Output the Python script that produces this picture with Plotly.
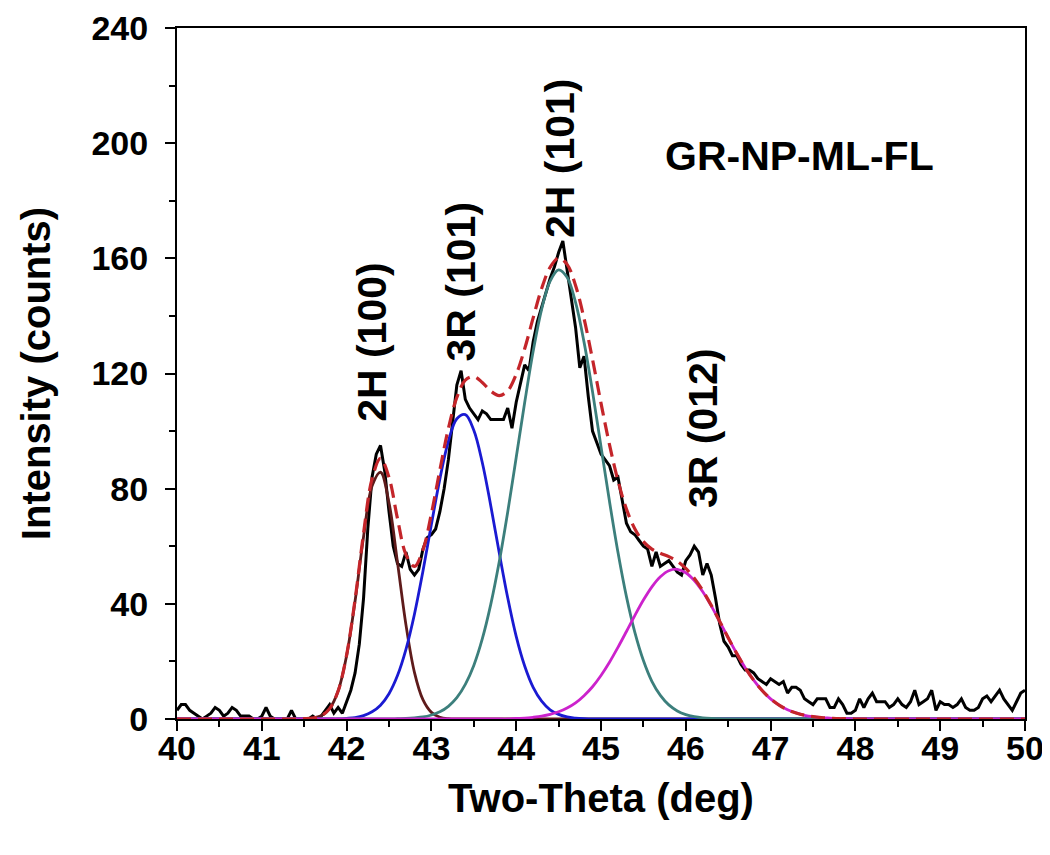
import plotly.graph_objects as go

# --- measured pattern (two-theta step 0.05 deg, 40 -> 50) ---
scan_x = [round(40 + 0.05 * i, 2) for i in range(201)]
scan_counts = [
    3, 5, 5, 3, 2, 1, 0, 1, 2, 4, 3, 1, 2, 4, 3, 1, 1, 1, 0, 0,
    1, 4, 1, 0, 0, 0, 0, 3, 0, 0, 0, 0, 1, 0, 1, 3, 5, 2, 4, 2,
    6, 10, 16, 26, 42, 66, 84, 92, 95, 86, 72, 60, 54, 53, 58, 52, 50, 52, 59, 63,
    64, 66, 72, 80, 90, 103, 116, 121, 111, 108, 106, 104, 107, 106, 104, 104, 104, 104, 108, 101,
    110, 117, 123, 121, 131, 138, 143, 148, 153, 157, 162, 166, 156, 147, 136, 122, 126, 112, 100, 96,
    92, 90, 88, 83, 84, 76, 68, 65, 64, 62, 60, 59, 53, 58, 53, 54, 55, 53, 51, 50,
    55, 57, 60, 58, 50, 54, 50, 42, 33, 27, 25, 22, 22, 19, 17, 17, 16, 14, 13, 12,
    14, 13, 12, 13, 9, 11, 11, 10, 7, 6, 5, 7, 7, 7, 4, 4, 7, 5, 2, 2,
    3, 7, 4, 7, 9, 6, 6, 6, 4, 5, 7, 5, 4, 6, 10, 5, 6, 7, 10, 3,
    6, 5, 5, 4, 5, 7, 4, 3, 3, 4, 7, 8, 6, 8, 10, 7, 5, 3, 6, 9,
    10,
]

# --- fitted peaks (two-theta step 0.1 deg, 40 -> 50) ---
fit_x = [round(40 + 0.1 * i, 1) for i in range(101)]

peak_2h100 = ([0] * 15 +
              [0.1, 0.3, 1.1, 3.6, 9.7,
               22.0, 41.0, 63.3, 80.9, 85.7, 75.1, 54.4, 32.7, 16.2, 6.7,
               2.3, 0.6, 0.1] +
              [0] * 68)

peak_3r101 = ([0] * 20 +
              [0.2, 0.5, 1.2, 2.5, 4.8, 8.8, 15.1, 24.2, 36.4, 51.3,
               67.6, 83.4, 96.4, 104.3, 105.7, 100.3, 89.1, 74.1, 57.7, 42.1,
               28.7, 18.4, 11.0, 6.2, 3.2, 1.6, 0.7, 0.3, 0.1] +
              [0] * 52)

peak_2h101 = ([0] * 26 +
              [0.1, 0.2, 0.4, 0.7,
               1.4, 2.5, 4.4, 7.4, 12.0, 18.6, 27.8, 39.8, 54.6, 71.9,
               90.8, 109.9, 127.7, 142.3, 152.1, 156.0, 153.4, 144.7, 130.9, 113.7,
               94.6, 75.6, 57.9, 42.5, 30.0, 20.3, 13.1, 8.2, 4.9, 2.8,
               1.5, 0.8, 0.4, 0.2, 0.1] +
              [0] * 36)

peak_3r012 = ([0] * 40 +
              [0.2, 0.3, 0.6, 1.0, 1.6, 2.5, 3.8, 5.6, 8.1, 11.2,
               15.1, 19.7, 24.9, 30.4, 36.0, 41.3, 45.9, 49.4, 51.5, 52.0,
               50.8, 48.1, 44.2, 39.3, 33.8, 28.2, 22.8, 17.8, 13.5, 9.9,
               7.0, 4.8, 3.2, 2.1, 1.3, 0.8, 0.5, 0.3, 0.1, 0.1] +
              [0] * 21)

fit_total = ([0] * 15 +
             [0.1, 0.3, 1.1, 3.6, 9.7,
              22.2, 41.5, 64.5, 83.4, 90.5, 83.9, 69.6, 57.1, 53.0, 58.7,
              71.3, 86.5, 100.9, 111.7, 117.7, 118.9, 116.9, 113.9, 112.3, 114.0,
              119.7, 128.6, 139.3, 149.5, 156.9, 160.1, 157.9, 150.6, 139.1, 124.9,
              109.7, 95.3, 82.8, 72.9, 66.0, 61.6, 59.0, 57.6, 56.4, 54.8,
              52.3, 48.9, 44.6, 39.5, 33.9, 28.2, 22.8, 17.8, 13.5, 9.9,
              7.0, 4.8, 3.2, 2.1, 1.3, 0.8, 0.5, 0.3, 0.1, 0.1] +
             [0] * 21)

peak_labels = ["2H (100)", "3R (101)", "2H (101)", "3R (012)"]
label_x = [42.30, 43.35, 44.51, 46.20]
label_y = [131, 152, 195, 101]

FONT = "Liberation Sans, Arial, sans-serif"

fig = go.Figure()

fig.add_trace(go.Scatter(x=scan_x, y=scan_counts, mode="lines",
                         line=dict(color="black", width=3)))

components = [
    (peak_2h100, "#5e1b1b"),
    (peak_3r101, "#1a1ad2"),
    (peak_2h101, "#3c7f7c"),
    (peak_3r012, "#cc22cc"),
]
for ys, col in components:
    fig.add_trace(go.Scatter(x=fit_x, y=ys, mode="lines",
                             line=dict(color=col, width=2.8, shape="spline")))

fig.add_trace(go.Scatter(x=fit_x, y=fit_total, mode="lines",
                         line=dict(color="#c4252a", width=3.2, dash="14px,7px",
                                   shape="spline")))

for txt, lx, ly in zip(peak_labels, label_x, label_y):
    fig.add_annotation(x=lx, y=ly, text=txt, textangle=-90, showarrow=False,
                       font=dict(family=FONT, size=41, color="black", weight="bold"))

fig.add_annotation(x=47.34, y=195.5, text="GR-NP-ML-FL", showarrow=False,
                   font=dict(family=FONT, size=41, color="black", weight="bold"))

axis_common = dict(
    showline=True, linewidth=2, linecolor="black", mirror=True,
    showgrid=False, zeroline=False, automargin=False,
    ticks="outside", ticklen=10, tickwidth=2, tickcolor="black",
    tickfont=dict(family=FONT, size=34, color="black", weight="bold"),
)

fig.update_xaxes(
    range=[40, 50], tick0=40, dtick=1, ticklabelstandoff=-12,
    minor=dict(dtick=0.5, ticks="outside", ticklen=6, tickwidth=2, tickcolor="black"),
    title=dict(text="Two-Theta (deg)", standoff=18,
               font=dict(family=FONT, size=40, color="black", weight="bold")),
    **axis_common,
)
fig.update_yaxes(
    range=[0, 240], tick0=0, dtick=40, ticklabelstandoff=10,
    minor=dict(dtick=20, ticks="outside", ticklen=6, tickwidth=2, tickcolor="black"),
    title=dict(text="Intensity (counts)", standoff=28,
               font=dict(family=FONT, size=40, color="black", weight="bold")),
    **axis_common,
)

# page body adds an 8px offset, margins compensate for it
fig.update_layout(
    width=1050, height=855,
    margin=dict(l=169, r=33, t=20, b=144),
    plot_bgcolor="white", paper_bgcolor="white",
    showlegend=False,
)

fig.write_html("out.html")
